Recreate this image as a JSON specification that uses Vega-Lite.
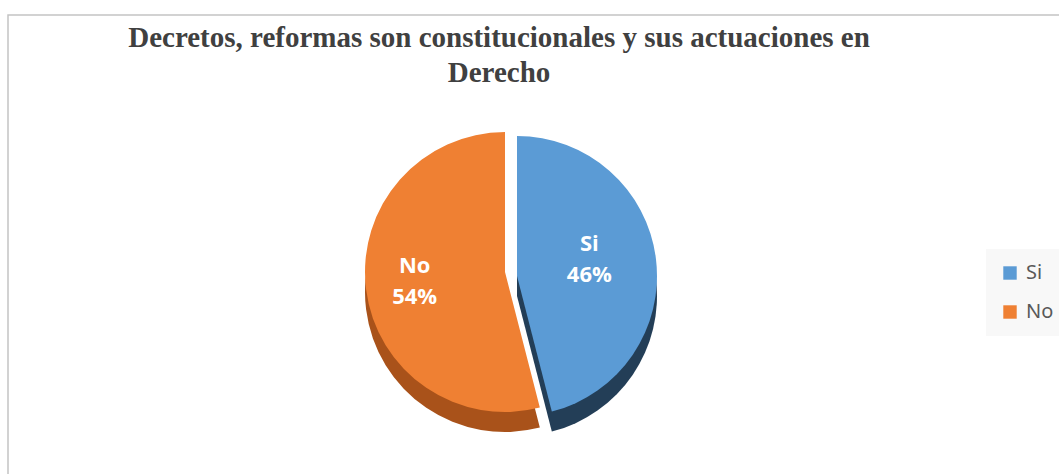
{
  "$schema": "https://vega.github.io/schema/vega-lite/v6.json",
  "autosize": "none",
  "padding": {"left": 8, "top": 15, "right": 0, "bottom": 0},
  "width": 1060,
  "height": 514,
  "background": "white",
  "config": {
    "view": {"stroke": null}
  },
  "title": {
    "text": ["Decretos, reformas son constitucionales y sus actuaciones en", "Derecho"],
    "font": "Liberation Serif",
    "fontSize": 29,
    "fontWeight": "bold",
    "color": "#404040",
    "anchor": "middle",
    "frame": "group",
    "dx": -39,
    "offset": -74,
    "lineHeight": 35
  },
  "data": {
    "values": [
      {"category": "Si", "value": 46, "label": "46%", "order": 1},
      {"category": "No", "value": 54, "label": "54%", "order": 2}
    ]
  },
  "transform": [
    {"stack": "value", "groupby": [], "sort": [{"field": "order"}], "as": ["v0", "v1"]}
  ],
  "layer": [
    {
      "data": {"values": [{"frame": 1}]},
      "transform": [],
      "mark": {"type": "rect", "fill": null, "stroke": "#c4c4c4", "strokeWidth": 1.5},
      "encoding": {}
    },
    {
      "transform": [{"filter": "datum.category === 'No'"}],
      "mark": {"type": "arc", "outerRadius": 140, "color": "#a9521a", "xOffset": -33, "yOffset": 20},
      "encoding": {
        "theta": {"field": "v0", "type": "quantitative", "scale": {"domain": [0, 100]}},
        "theta2": {"field": "v1"}
      }
    },
    {
      "transform": [{"filter": "datum.category === 'Si'"}],
      "mark": {"type": "arc", "outerRadius": 140, "color": "#233e57", "xOffset": -21, "yOffset": 24},
      "encoding": {
        "theta": {"field": "v0", "type": "quantitative"},
        "theta2": {"field": "v1"}
      }
    },
    {
      "transform": [{"filter": "datum.category === 'No'"}],
      "mark": {"type": "arc", "outerRadius": 140, "xOffset": -33, "yOffset": 0},
      "encoding": {
        "theta": {"field": "v0", "type": "quantitative"},
        "theta2": {"field": "v1"},
        "color": {
          "field": "category",
          "type": "nominal",
          "scale": {"domain": ["Si", "No"], "range": ["#5b9bd5", "#ef8033"]},
          "legend": {
            "title": null,
            "orient": "none",
            "legendX": 978,
            "legendY": 234,
            "fillColor": "#f8f8f8",
            "padding": 14,
            "symbolType": "square",
            "symbolSize": 180,
            "symbolStrokeWidth": 0,
            "labelFont": "Noto Sans",
            "labelFontSize": 20,
            "labelColor": "#595959",
            "rowPadding": 19,
            "labelOffset": 6
          }
        }
      }
    },
    {
      "transform": [{"filter": "datum.category === 'Si'"}],
      "mark": {"type": "arc", "outerRadius": 140, "xOffset": -21, "yOffset": 4},
      "encoding": {
        "theta": {"field": "v0", "type": "quantitative"},
        "theta2": {"field": "v1"},
        "color": {"field": "category", "type": "nominal"}
      }
    },
    {
      "transform": [{"calculate": "[datum.category, datum.label]", "as": "lines"}],
      "mark": {"type": "text", "radius": 88, "font": "Open Sans", "fontSize": 22, "fontWeight": "bold", "color": "white", "xOffset": -36, "yOffset": -17, "lineHeight": 31, "baseline": "middle"},
      "encoding": {
        "theta": {"field": "value", "type": "quantitative", "stack": true},
        "order": {"field": "order", "type": "quantitative"},
        "text": {"field": "lines"}
      }
    }
  ]
}
